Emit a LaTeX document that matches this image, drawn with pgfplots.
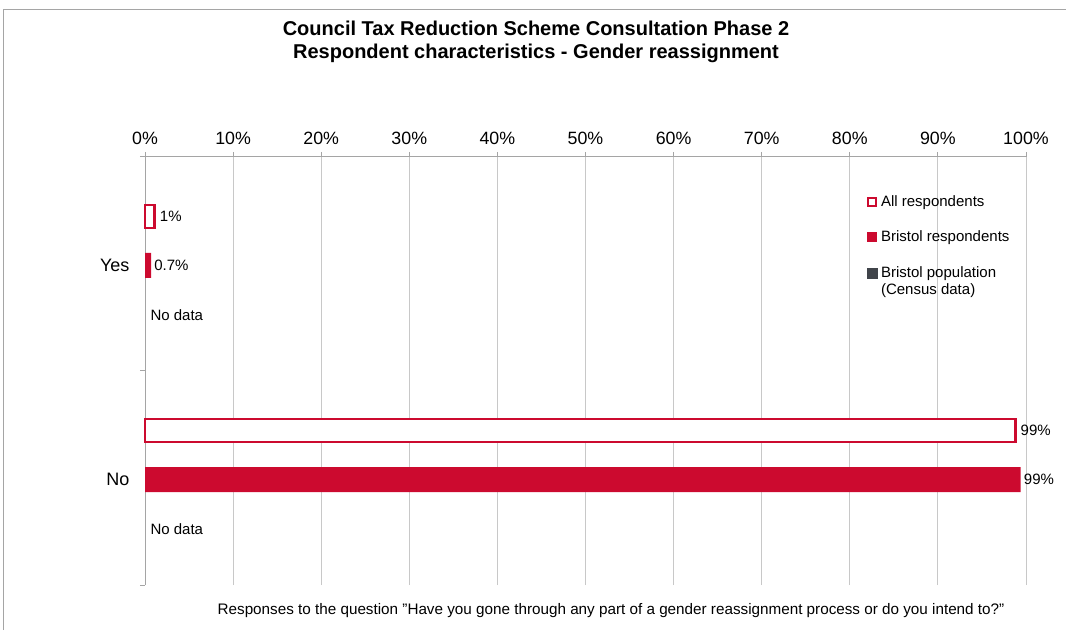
\documentclass[border=0pt]{standalone}
\usepackage{pgfplots}
\pgfplotsset{compat=1.18}
\usepackage{fontspec}
\setmainfont{Liberation Sans}
\definecolor{cred}{RGB}{204,10,47}
\definecolor{cgrid}{RGB}{200,200,200}
\definecolor{caxis}{RGB}{165,165,165}
\definecolor{cdark}{RGB}{64,68,74}
\begin{document}
\begin{tikzpicture}
\path[use as bounding box] (0pt,0pt) rectangle (1066pt,630pt);
\draw[caxis, line width=1pt] (3pt,0pt) -- (3pt,620pt) -- (1066pt,620pt);
\node[font=\bfseries\fontsize{20}{23}\selectfont, align=center] at (536pt,588.5pt) {Council Tax Reduction Scheme Consultation Phase 2\\Respondent characteristics - Gender reassignment};
\node[font=\fontsize{15.25}{18}\selectfont] at (611pt,19pt) {Responses to the question \char34 Have you gone through any part of a gender reassignment process or do you intend to?\char34};
\begin{axis}[
  at={(145pt,45pt)}, anchor=south west,
  scale only axis, width=881pt, height=428pt,
  xmin=0, xmax=100, ymin=0, ymax=2,
  xtick={0,10,...,100},
  xticklabel={\pgfmathprintnumber[assume math mode=true]{\tick}\%},
  ytick={0,1,2}, yticklabels={},
  axis x line*=top, axis y line*=left,
  axis line style={caxis, line width=1pt, -},
  tick align=outside, major tick length=5pt,
  tick style={caxis, line width=1pt},
  xmajorgrids, grid style={cgrid, line width=1pt},
  ticklabel style={font=\fontsize{17.8}{20}\selectfont},
  xticklabel style={yshift=4pt},
  legend style={at={(rel axis cs:0.8155,0.92)}, anchor=north west, draw=none, fill=none,
    font=\fontsize{15}{17}\selectfont, row sep=19pt, cells={anchor=west, align=left},
    /tikz/every odd column/.append style={column sep=2pt}},
  legend cell align=left,
  clip=false,
]
\addplot[xbar, bar width=23pt, bar shift=47.5pt, draw=cred, fill=white, line width=2.5pt,
  nodes near coords, point meta=explicit symbolic,
  nodes near coords style={font=\fontsize{15}{18}\selectfont, anchor=west, inner sep=2pt, xshift=2pt, yshift=47.5pt, text=black},
  legend image code/.code={\draw[cred, line width=2pt, fill=white] (0pt,-4pt) rectangle (8pt,4pt);}]
  coordinates {(1.1,1.5) [1\%] (98.8,0.5) [99\%]};
\addlegendentry{All respondents}
\addplot[xbar, bar width=25pt, bar shift=-1.5pt, draw=none, fill=cred,
  nodes near coords, point meta=explicit symbolic,
  nodes near coords style={font=\fontsize{15}{18}\selectfont, anchor=west, inner sep=2pt, xshift=1pt, yshift=-1.5pt, text=black},
  legend image code/.code={\fill[cred] (-1pt,-5pt) rectangle (9pt,5pt);}]
  coordinates {(0.7,1.5) [0.7\%] (99.4,0.5) [99\%]};
\addlegendentry{Bristol respondents}
\addlegendimage{legend image code/.code={\fill[cdark] (-1pt,3pt) rectangle (9pt,13pt);}}
\addlegendentry{Bristol population\\(Census data)}
\node[anchor=west, font=\fontsize{15}{18}\selectfont, yshift=-51pt, xshift=2pt] at (axis cs:0,1.5) {No data};
\node[anchor=west, font=\fontsize{15}{18}\selectfont, yshift=-51.5pt, xshift=2pt] at (axis cs:0,0.5) {No data};
\node[anchor=east, font=\fontsize{18}{20}\selectfont, xshift=-12pt, yshift=-1.5pt] at (axis cs:0,1.5) {Yes};
\node[anchor=east, font=\fontsize{18}{20}\selectfont, xshift=-12pt, yshift=-1.5pt] at (axis cs:0,0.5) {No};
\end{axis}
\end{tikzpicture}
\end{document}
